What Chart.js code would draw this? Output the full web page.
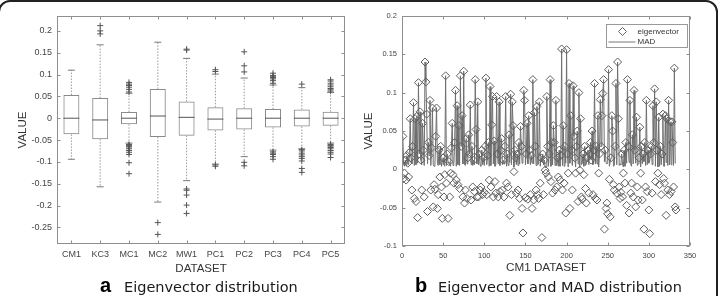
<!DOCTYPE html>
<html>
<head>
<meta charset="utf-8">
<script src="https://cdn.jsdelivr.net/npm/chart.js@4.4.1/dist/chart.umd.min.js"></script>
<style>
  html, body { margin:0; padding:0; background:#fff; }
  body { width:725px; height:296px; position:relative; overflow:hidden; }
  #frame { position:absolute; left:-2px; top:0; width:720px; height:330px; box-sizing:border-box;
           border:2px solid #222; border-radius:12px; }
  #cA { position:absolute; left:0; top:0; }
  #cB { position:absolute; left:360px; top:0; }
  .lab { position:absolute; white-space:nowrap; color:#1a1a1a; }
  .big { font: bold 20px "Liberation Sans", Arial, sans-serif; line-height:normal; color:#000; }
  .cap { font: 14.5px "DejaVu Sans", sans-serif; line-height:normal; }
</style>
</head>
<body>
<div id="frame"></div>
<canvas id="cA" width="360" height="296"></canvas>
<canvas id="cB" width="365" height="296"></canvas>
<div class="lab big" style="left:100px; top:274px;">a</div>
<div class="lab cap" style="left:124px; top:278.5px;">Eigenvector distribution</div>
<div class="lab big" style="left:415px; top:274px;">b</div>
<div class="lab cap" style="left:438px; top:278.5px;">Eigenvector and MAD distribution</div>
<script>
// ---------------- Panel a: boxplot data ----------------
const datasets = ['CM1','KC3','MC1','MC2','MW1','PC1','PC2','PC3','PC4','PC5'];
const q1          = [-0.037, -0.048, -0.014, -0.043, -0.040, -0.028, -0.026, -0.021, -0.019, -0.017];
const medians     = [ 0.000, -0.004,  0.000,  0.005,  0.002, -0.002,  0.000,  0.000,  0.000,  0.000];
const q3          = [ 0.053,  0.046,  0.014,  0.067,  0.038,  0.025,  0.023,  0.021,  0.020,  0.015];
const whiskerLow  = [-0.094, -0.157, -0.057, -0.192, -0.143, -0.105, -0.088, -0.073, -0.070, -0.057];
const whiskerHigh = [ 0.110,  0.168,  0.057,  0.174,  0.137,  0.101,  0.092,  0.076,  0.070,  0.059];
const outliers = {
  CM1: [],
  KC3: [0.212, 0.200, 0.193],
  MC1: [0.082, 0.078, 0.075, 0.071, 0.066, 0.060, -0.060, -0.062, -0.064, -0.066, -0.070, -0.074, -0.078, -0.083, -0.102, -0.127],
  MC2: [-0.239, -0.266],
  MW1: [0.158, 0.156, -0.162, -0.165, -0.176, -0.199, -0.218],
  PC1: [0.111, 0.107, -0.107, -0.110],
  PC2: [0.106, 0.120, 0.152, -0.101, -0.109],
  PC3: [0.080, 0.086, 0.090, 0.093, 0.095, 0.098, 0.103, -0.077, -0.080, -0.083, -0.088, -0.094],
  PC4: [0.078, -0.072, -0.075, -0.080, -0.084, -0.088, -0.092, -0.098, -0.115, -0.124],
  PC5: [0.062, 0.065, 0.068, 0.072, 0.076, 0.080, 0.085, 0.088, -0.060, -0.062, -0.064, -0.067, -0.070, -0.074, -0.078, -0.082, -0.090]
};
const leftYTicks = [-0.25, -0.2, -0.15, -0.1, -0.05, 0, 0.05, 0.1, 0.15, 0.2];

// ---------------- Panel b: CM1 eigenvector and MAD ----------------
const eigenvector = [
  0.043,-0.012,-0.005,0.012,-0.014,0.018,0.008,-0.010,0.022,0.066,
  0.015,-0.027,0.030,0.087,-0.038,0.066,-0.042,0.069,-0.063,0.113,
  0.020,0.075,0.012,-0.027,0.060,0.025,-0.036,0.140,0.114,0.072,
  -0.055,0.035,0.018,0.090,-0.027,0.028,0.080,-0.049,-0.020,-0.026,
  0.043,0.080,-0.051,-0.033,0.025,-0.010,0.030,-0.023,-0.064,0.015,
  -0.036,-0.007,0.122,-0.018,0.020,-0.064,0.010,-0.036,-0.005,0.028,
  0.060,-0.007,-0.018,0.035,0.103,-0.014,0.083,-0.020,0.057,-0.025,
  0.122,0.030,0.070,-0.036,0.128,-0.044,-0.027,0.040,-0.038,0.015,
  0.045,0.020,0.084,-0.040,0.030,-0.023,0.012,-0.029,0.117,0.052,
  -0.036,0.088,-0.036,0.020,-0.027,-0.023,0.025,-0.033,0.015,-0.030,
  0.030,0.119,-0.033,0.018,0.035,-0.014,0.108,-0.023,0.058,0.095,
  -0.036,0.037,-0.016,-0.031,0.095,0.020,-0.036,0.088,-0.029,0.025,
  0.040,-0.027,0.012,-0.036,0.030,0.095,-0.018,0.020,-0.023,0.045,
  -0.060,0.098,-0.033,0.088,0.057,-0.003,0.025,0.015,-0.031,0.020,
  -0.027,0.035,-0.038,0.056,0.030,-0.051,-0.083,0.103,0.090,-0.037,
  0.020,0.060,-0.039,0.070,0.025,-0.033,0.018,-0.051,0.117,-0.040,
  0.074,0.030,-0.027,0.082,-0.033,-0.038,0.088,-0.018,0.015,-0.089,
  0.020,-0.033,0.012,-0.001,-0.005,0.095,0.030,-0.010,0.020,0.117,
  -0.016,0.035,-0.031,0.057,0.035,-0.027,0.090,-0.023,0.015,-0.010,
  0.025,-0.014,0.018,0.157,-0.027,0.057,-0.018,0.030,-0.057,0.156,
  0.020,-0.005,0.112,-0.051,0.070,0.025,-0.027,0.109,0.043,0.015,
  -0.005,0.030,0.050,-0.042,0.100,-0.001,0.066,-0.036,-0.039,0.020,
  -0.007,0.030,-0.025,-0.044,0.015,0.025,-0.031,0.020,0.035,0.012,
  0.050,-0.033,0.025,0.112,-0.038,0.030,-0.040,0.070,-0.005,0.020,
  0.091,0.030,0.070,0.099,0.117,-0.078,0.025,-0.051,-0.044,-0.058,
  0.130,-0.013,-0.062,0.015,0.070,0.050,-0.020,-0.027,0.030,0.112,
  -0.031,0.140,0.066,-0.023,-0.038,-0.030,0.020,-0.036,-0.005,0.025,
  -0.018,0.035,-0.047,0.117,0.030,-0.057,0.090,-0.031,-0.018,0.045,
  -0.036,0.103,0.025,-0.049,0.068,-0.023,-0.040,0.015,0.055,-0.005,
  0.030,-0.040,0.020,-0.078,0.035,-0.023,0.090,-0.029,0.025,-0.053,
  -0.084,0.020,0.030,-0.031,0.083,0.035,0.105,-0.016,0.088,0.025,
  -0.005,0.068,-0.020,0.030,-0.033,0.020,0.072,-0.012,-0.018,0.070,
  -0.060,0.066,-0.027,0.090,-0.033,0.062,-0.029,0.062,0.035,-0.023,
  0.132,-0.049,-0.053
];
const mad = [
  0.043,0.006,0.004,0.012,0.005,0.018,0.008,0.006,0.022,0.066,
  0.015,0.007,0.030,0.087,0.005,0.066,0.006,0.069,0.008,0.113,
  0.020,0.075,0.012,0.006,0.060,0.025,0.005,0.140,0.114,0.072,
  0.007,0.035,0.018,0.090,0.005,0.028,0.080,0.006,0.004,0.007,
  0.043,0.080,0.008,0.005,0.025,0.006,0.030,0.004,0.009,0.015,
  0.006,0.004,0.122,0.005,0.020,0.008,0.010,0.006,0.004,0.028,
  0.060,0.005,0.006,0.035,0.103,0.004,0.083,0.006,0.057,0.005,
  0.122,0.030,0.070,0.007,0.128,0.006,0.005,0.040,0.007,0.015,
  0.045,0.020,0.084,0.006,0.030,0.005,0.012,0.006,0.117,0.052,
  0.007,0.088,0.006,0.020,0.005,0.004,0.025,0.006,0.015,0.005,
  0.030,0.119,0.006,0.018,0.035,0.004,0.108,0.005,0.058,0.095,
  0.007,0.037,0.004,0.006,0.095,0.020,0.007,0.088,0.005,0.025,
  0.040,0.006,0.012,0.007,0.030,0.095,0.004,0.020,0.005,0.045,
  0.009,0.098,0.006,0.088,0.057,0.003,0.025,0.015,0.006,0.020,
  0.005,0.035,0.007,0.056,0.030,0.008,0.010,0.103,0.090,0.006,
  0.020,0.060,0.007,0.070,0.025,0.006,0.018,0.008,0.117,0.007,
  0.074,0.030,0.005,0.082,0.006,0.007,0.088,0.004,0.015,0.010,
  0.020,0.006,0.012,0.002,0.003,0.095,0.030,0.004,0.020,0.117,
  0.004,0.035,0.006,0.057,0.035,0.005,0.090,0.005,0.015,0.004,
  0.025,0.004,0.018,0.157,0.005,0.057,0.004,0.030,0.008,0.156,
  0.020,0.003,0.112,0.008,0.070,0.025,0.005,0.109,0.043,0.015,
  0.003,0.030,0.050,0.007,0.100,0.002,0.066,0.006,0.007,0.020,
  0.004,0.030,0.005,0.007,0.015,0.025,0.006,0.020,0.035,0.012,
  0.050,0.006,0.025,0.112,0.007,0.030,0.007,0.070,0.003,0.020,
  0.091,0.030,0.070,0.099,0.117,0.010,0.025,0.008,0.007,0.009,
  0.130,0.004,0.009,0.015,0.070,0.050,0.004,0.005,0.030,0.112,
  0.006,0.140,0.066,0.005,0.007,0.006,0.020,0.007,0.003,0.025,
  0.004,0.035,0.008,0.117,0.030,0.009,0.090,0.006,0.004,0.045,
  0.007,0.103,0.025,0.008,0.068,0.005,0.007,0.015,0.055,0.003,
  0.030,0.007,0.020,0.010,0.035,0.005,0.090,0.006,0.025,0.008,
  0.011,0.020,0.030,0.006,0.083,0.035,0.105,0.004,0.088,0.025,
  0.003,0.068,0.004,0.030,0.006,0.020,0.072,0.004,0.004,0.070,
  0.009,0.066,0.005,0.090,0.006,0.062,0.006,0.062,0.035,0.005,
  0.132,0.008,0.009
];
const featureIndex = eigenvector.map((_, i) => i + 1);
const rightXTicks = [0, 50, 100, 150, 200, 250, 300, 350];
const rightYTicks = [-0.1, -0.05, 0, 0.05, 0.1, 0.15, 0.2];

// ---------------- helpers ----------------
const fmt = v => String(Math.round(v * 100) / 100);
const FONT = '"Liberation Sans", Arial, sans-serif';

const axesBox = {
  id: 'axesBox',
  afterDatasetsDraw(chart, args, o) {
    const {ctx, chartArea: a} = chart;
    const xs = chart.scales.x, ys = chart.scales.y;
    const L = Math.round(a.left) + 0.5, R = Math.round(a.right) - 0.5;
    const T = Math.round(a.top) + 0.5, B = Math.round(a.bottom) - 0.5;
    ctx.save();
    ctx.strokeStyle = o.color; ctx.lineWidth = 1;
    ctx.strokeRect(L, T, R - L, B - T);
    ctx.beginPath();
    const tl = o.tickLen;
    xs.ticks.forEach((t, i) => {
      const px = Math.round(xs.getPixelForTick(i)) + 0.5;
      ctx.moveTo(px, B); ctx.lineTo(px, B - tl);
      ctx.moveTo(px, T); ctx.lineTo(px, T + tl);
    });
    ys.ticks.forEach((t, i) => {
      const py = Math.round(ys.getPixelForTick(i)) + 0.5;
      ctx.moveTo(L, py); ctx.lineTo(L + tl, py);
      ctx.moveTo(R, py); ctx.lineTo(R - tl, py);
    });
    ctx.stroke();
    ctx.restore();
  }
};

// ---------------- Chart a ----------------
const whiskerData = [];
datasets.forEach((c, i) => {
  whiskerData.push({x: c, y: q3[i]}, {x: c, y: whiskerHigh[i]}, {x: c, y: null});
  whiskerData.push({x: c, y: q1[i]}, {x: c, y: whiskerLow[i]}, {x: c, y: null});
});
const capData = [];
datasets.forEach((c, i) => { capData.push({x: c, y: whiskerHigh[i]}, {x: c, y: whiskerLow[i]}); });
const outlierData = [];
datasets.forEach(c => outliers[c].forEach(v => outlierData.push({x: c, y: v})));

new Chart(document.getElementById('cA'), {
  type: 'bar',
  data: {
    labels: datasets,
    datasets: [
      { type: 'bar', data: datasets.map((c, i) => [q1[i], q3[i]]),
        backgroundColor: 'rgba(255,255,255,0)', borderColor: '#8a8a8a', borderWidth: 1,
        borderSkipped: false, barPercentage: 0.555, categoryPercentage: 1, order: 3 },
      { type: 'line', data: whiskerData, borderColor: '#9a9a9a', borderWidth: 1, borderDash: [1.5, 1.5],
        pointRadius: 0, spanGaps: false, fill: false, order: 4 },
      { type: 'line', data: capData, showLine: false, pointStyle: 'line', pointRadius: 3.5,
        pointBorderColor: '#777', pointBorderWidth: 1, order: 2 },
      { type: 'line', data: medians.map((m, i) => ({x: datasets[i], y: m})), showLine: false,
        pointStyle: 'line', pointRadius: 8, pointBorderColor: '#555', pointBorderWidth: 1, order: 1 },
      { type: 'line', data: outlierData, showLine: false, pointStyle: 'cross', pointRadius: 3,
        pointBorderColor: '#555', pointBorderWidth: 1, order: 0 }
    ]
  },
  options: {
    responsive: false, animation: false, devicePixelRatio: 1, events: [],
    layout: { padding: { top: 16, right: 15, left: 0, bottom: 20 } },
    plugins: { legend: { display: false }, tooltip: { enabled: false },
               axesBox: { color: '#8f8f8f', tickLen: 3 } },
    scales: {
      x: {
        type: 'category', offset: true,
        grid: { display: false, drawTicks: false }, border: { display: false },
        ticks: { font: { family: FONT, size: 9 }, color: '#444', padding: 5, maxRotation: 0, autoSkip: false },
        title: { display: true, text: 'DATASET', font: { family: FONT, size: 11.5 }, color: '#333', padding: 0 },
        afterFit: s => { s.height = 32; }
      },
      y: {
        min: -0.288, max: 0.234,
        afterBuildTicks: s => { s.ticks = leftYTicks.map(v => ({ value: v })); },
        grid: { display: false, drawTicks: false }, border: { display: false },
        ticks: { font: { family: FONT, size: 9 }, color: '#444', padding: 5, callback: v => fmt(v) },
        title: { display: true, text: 'VALUE', font: { family: FONT, size: 11.5 }, color: '#333',
                 padding: { top: 16, bottom: 0 } },
        afterFit: s => { s.width = 57; }
      }
    }
  },
  plugins: [axesBox]
});

// ---------------- Chart b ----------------
const matLegend = {
  id: 'matLegend',
  afterDraw(chart) {
    const {ctx, chartArea: a} = chart;
    const R = Math.round(a.right) - 2.5, W = 81, T = Math.round(a.top) + 8.5, H = 23;
    const Lx = R - W;
    ctx.save();
    ctx.fillStyle = '#fff'; ctx.fillRect(Lx, T, W, H);
    ctx.strokeStyle = '#999'; ctx.lineWidth = 1; ctx.strokeRect(Lx, T, W, H);
    const dx = Lx + 16, dy = T + 7;
    ctx.strokeStyle = '#666';
    ctx.beginPath(); ctx.moveTo(dx, dy - 4); ctx.lineTo(dx + 4, dy); ctx.lineTo(dx, dy + 4); ctx.lineTo(dx - 4, dy); ctx.closePath(); ctx.stroke();
    ctx.strokeStyle = '#777';
    ctx.beginPath(); ctx.moveTo(Lx + 2, T + 17.5); ctx.lineTo(Lx + 29, T + 17.5); ctx.stroke();
    ctx.fillStyle = '#333'; ctx.font = '8px ' + FONT; ctx.textBaseline = 'middle'; ctx.textAlign = 'left';
    ctx.fillText('eigenvector', Lx + 31, dy);
    ctx.fillText('MAD', Lx + 31, T + 17.5);
    ctx.restore();
  }
};

new Chart(document.getElementById('cB'), {
  type: 'scatter',
  data: {
    datasets: [
      { label: 'eigenvector', data: eigenvector.map((v, i) => ({x: featureIndex[i], y: v})),
        showLine: false, pointStyle: 'rectRot', pointRadius: 4, pointBorderColor: '#5e5e5e',
        pointBackgroundColor: 'rgba(255,255,255,0)', pointBorderWidth: 1, order: 0 },
      { label: 'MAD', data: mad.map((v, i) => ({x: featureIndex[i], y: v})),
        showLine: true, pointRadius: 0, borderColor: '#6f6f6f', borderWidth: 1, order: 1 }
    ]
  },
  options: {
    responsive: false, animation: false, devicePixelRatio: 1, events: [],
    layout: { padding: { top: 16, right: 35, left: 0, bottom: 20 } },
    plugins: { legend: { display: false }, tooltip: { enabled: false },
               axesBox: { color: '#8f8f8f', tickLen: 3 } },
    scales: {
      x: {
        type: 'linear', min: 0, max: 350,
        afterBuildTicks: s => { s.ticks = rightXTicks.map(v => ({ value: v })); },
        grid: { display: false, drawTicks: false }, border: { display: false },
        ticks: { font: { family: FONT, size: 7.5 }, color: '#444', padding: 5, maxRotation: 0, callback: v => String(v) },
        title: { display: true, text: 'CM1 DATASET', font: { family: FONT, size: 11.7 }, color: '#333', padding: { top: 0, bottom: 1 } },
        afterFit: s => { s.height = 30; }
      },
      y: {
        min: -0.1, max: 0.2,
        afterBuildTicks: s => { s.ticks = rightYTicks.map(v => ({ value: v })); },
        grid: { display: false, drawTicks: false }, border: { display: false },
        ticks: { font: { family: FONT, size: 7.5 }, color: '#444', padding: 5, callback: v => fmt(v) },
        title: { display: true, text: 'VALUE', font: { family: FONT, size: 11.5 }, color: '#333',
                 padding: { top: 2, bottom: 0 } },
        afterFit: s => { s.width = 42; }
      }
    }
  },
  plugins: [axesBox, matLegend]
});
</script>
</body>
</html>
